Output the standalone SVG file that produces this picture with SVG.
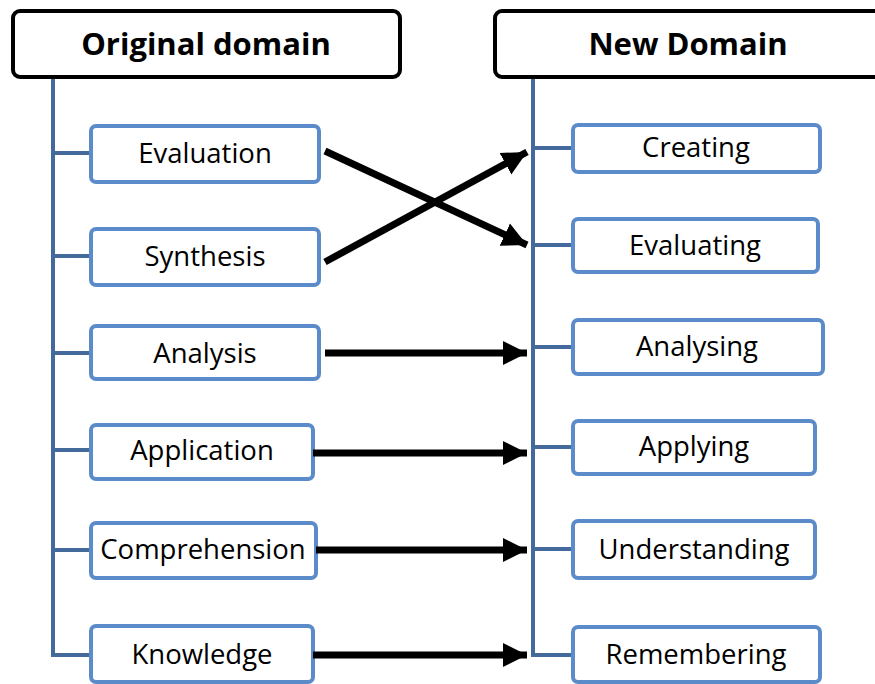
<svg xmlns="http://www.w3.org/2000/svg" width="875" height="684" viewBox="0 0 875 684">
<defs>
<style>
.hdr{fill:#fff;stroke:#000;stroke-width:4}
.htxt{font-family:"Open Sans","Liberation Sans",sans-serif;font-weight:bold;font-size:31px;fill:#000;text-anchor:middle}
.box{fill:#fff;stroke:#5b8bc8;stroke-width:4}
.txt{font-family:"Open Sans","Liberation Sans",sans-serif;font-size:27.5px;fill:#000;text-anchor:middle}
.tree{fill:none;stroke:#44699b;stroke-width:4}
.arr{stroke:#000;stroke-width:7;fill:none}
</style>
<marker id="ah" viewBox="0 0 10 10" refX="10" refY="5" markerWidth="3.5" markerHeight="3.9" markerUnits="strokeWidth" orient="auto">
<path d="M0,0 L10,5 L0,10 Z" fill="#000"/>
</marker>
</defs>
<g id="tree-lines">
<path class="tree" d="M53,77 V655 H90 M53,153 H90 M53,256 H90 M53,353 H90 M53,450 H90 M53,550 H90"/>
<path class="tree" d="M533,77 V655 H572 M533,148 H572 M533,245 H572 M533,347 H572 M533,447 H572 M533,549 H572"/>
</g>
<g id="header-original"><rect class="hdr" x="13" y="11" width="387" height="66" rx="7"/><text class="htxt" x="206" y="55">Original domain</text></g>
<g id="header-new"><rect class="hdr" x="495" y="11" width="390" height="66" rx="7"/><text class="htxt" x="688" y="55">New Domain</text></g>
<g id="evaluation"><rect class="box" x="91" y="126" width="228" height="56" rx="5"/><text class="txt" x="205" y="163">Evaluation</text></g>
<g id="synthesis"><rect class="box" x="91" y="229" width="228" height="56" rx="5"/><text class="txt" x="205" y="266">Synthesis</text></g>
<g id="analysis"><rect class="box" x="91" y="326" width="228" height="53" rx="5"/><text class="txt" x="205" y="363">Analysis</text></g>
<g id="application"><rect class="box" x="91" y="425" width="222" height="54" rx="5"/><text class="txt" x="202" y="460">Application</text></g>
<g id="comprehension"><rect class="box" x="91" y="523" width="225" height="55" rx="5"/><text class="txt" x="203" y="559">Comprehension</text></g>
<g id="knowledge"><rect class="box" x="91" y="626" width="222" height="56" rx="5"/><text class="txt" x="202" y="664">Knowledge</text></g>
<g id="creating"><rect class="box" x="573" y="125" width="247" height="47" rx="5"/><text class="txt" x="696" y="157">Creating</text></g>
<g id="evaluating"><rect class="box" x="573" y="219" width="245" height="53" rx="5"/><text class="txt" x="695" y="255">Evaluating</text></g>
<g id="analysing"><rect class="box" x="573" y="320" width="250" height="54" rx="5"/><text class="txt" x="697" y="356">Analysing</text></g>
<g id="applying"><rect class="box" x="573" y="421" width="242" height="53" rx="5"/><text class="txt" x="694" y="456">Applying</text></g>
<g id="understanding"><rect class="box" x="573" y="521" width="242" height="57" rx="5"/><text class="txt" x="694" y="559">Understanding</text></g>
<g id="remembering"><rect class="box" x="573" y="627" width="247" height="55" rx="5"/><text class="txt" x="696" y="664">Remembering</text></g>
<g id="connectors">
<line class="arr" x1="325" y1="151" x2="527" y2="245" marker-end="url(#ah)"/>
<line class="arr" x1="325" y1="262" x2="527" y2="152" marker-end="url(#ah)"/>
<line class="arr" x1="325" y1="353" x2="527" y2="353" marker-end="url(#ah)"/>
<line class="arr" x1="313" y1="453" x2="527" y2="453" marker-end="url(#ah)"/>
<line class="arr" x1="316" y1="550" x2="527" y2="550" marker-end="url(#ah)"/>
<line class="arr" x1="313" y1="655" x2="527" y2="655" marker-end="url(#ah)"/>
</g>
</svg>
